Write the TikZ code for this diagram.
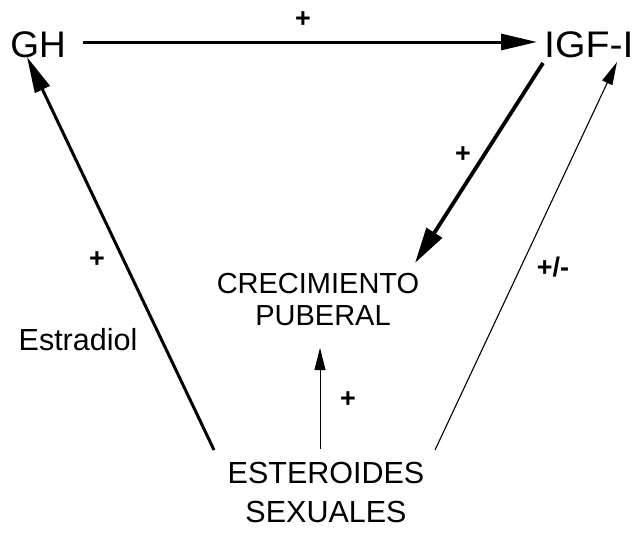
\documentclass[tikz,border=0pt]{standalone}
\usepackage{fontspec}
\setmainfont{Liberation Sans}
\usetikzlibrary{arrows.meta}
\begin{document}
\begin{tikzpicture}[x=1pt,y=-1pt,
  big/.style={inner sep=0pt,font=\fontsize{37}{40}\selectfont},
  mid/.style={inner sep=0pt,font=\fontsize{29}{32}\selectfont},
  ster/.style={inner sep=0pt,font=\fontsize{30.5}{34}\selectfont},
  sign/.style={inner sep=0pt,font=\fontsize{27}{29}\selectfont\bfseries},
  thickarrow/.style={line width=3pt,-{Triangle[length=36pt,width=16pt]}},
  heavyarrow/.style={line width=3.8pt,-{Triangle[length=36pt,width=18pt]}},
  thinarrow/.style={line width=1.1pt,-{Triangle[length=23pt,width=11pt]}}]
\useasboundingbox (0,0) rectangle (634,536);
% nodes
\node[big,anchor=base] (gh) at (38,57) {GH};
\node[inner sep=0pt,anchor=base west] (igf) at (544,57) {\scalebox{1.06}[1]{\fontsize{37}{40}\selectfont IGF-I}};
\node[mid,anchor=base] (crec) at (318,293) {CRECIMIENTO};
\node[mid,anchor=base] (pub) at (323,325) {PUBERAL};
\node[ster,anchor=base] (est) at (326,483) {ESTEROIDES};
\node[ster,anchor=base] (sex) at (326,522) {SEXUALES};
\node[inner sep=0pt,anchor=base] (estr) at (78,350) {\fontsize{30.5}{32}\selectfont Estradiol};
% labels
\node[sign] (p1) at (303,20) {+};
\node[sign] (p2) at (463,155) {+};
\node[sign] (p3) at (97,260) {+};
\node[sign] (p4) at (348,400) {+};
\node[sign] (pm) at (553,267) {+/-};
% connector endpoints
\coordinate (ghR) at (83,42);
\coordinate (igfL) at (537,42);
\coordinate (ghB) at (27,57);
\coordinate (estL) at (214,450);
\coordinate (igfB) at (543,63);
\coordinate (crecT) at (415,263);
\coordinate (estR) at (435,450);
\coordinate (igfR) at (617,62);
\coordinate (estC) at (320,449);
\coordinate (pubB) at (320,348);
% connectors
\draw[thickarrow] (ghR) -- (igfL);
\draw[thickarrow] (estL) -- (ghB);
\draw[heavyarrow] (igfB) -- (crecT);
\draw[thinarrow] (estR) -- (igfR);
\draw[line width=0.9pt,-{Triangle[length=22pt,width=11pt]}] (estC) -- (pubB);
\end{tikzpicture}
\end{document}
